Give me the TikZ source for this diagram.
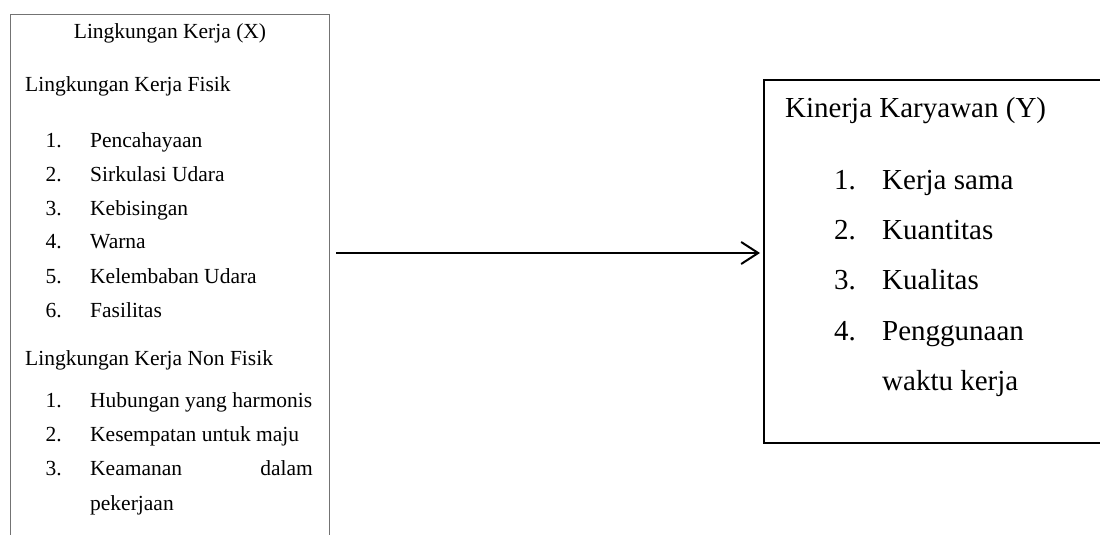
\documentclass[tikz,border=0pt]{standalone}
\usepackage{fontspec}
\setmainfont{Liberation Serif}
\usetikzlibrary{arrows.meta}
\tikzset{
  lboxstyle/.style={draw=black!55, line width=1pt, anchor=north west, inner sep=0pt},
  rboxstyle/.style={draw=black, line width=2pt, anchor=north west, inner sep=0pt},
  ltxt/.style={inner sep=0pt, font=\fontsize{21.5}{25}\selectfont},
  rtxt/.style={inner sep=0pt, font=\fontsize{29}{34}\selectfont},
  arr/.style={line width=2pt, -{Straight Barb[length=17pt,width=22pt,line width=2pt]}}
}
\begin{document}
\begin{tikzpicture}[x=1pt,y=-1pt]
\useasboundingbox (0,0) rectangle (1100,535);
\clip (0,0) rectangle (1100,535);
% boxes
\node[lboxstyle, minimum width=319pt, minimum height=560pt] (lbox) at (9.5,14) {};
\node[rboxstyle, minimum width=500pt, minimum height=363pt] (rbox) at (763,79) {};
% left box text
\node[ltxt, anchor=base] (lt) at (170,39) {Lingkungan Kerja (X)};
\node[ltxt, anchor=base west] (lh1) at (25,92) {Lingkungan Kerja Fisik};
\node[ltxt, anchor=base east] (n1) at (62,147) {1.};
\node[ltxt, anchor=base west] (i1) at (90,147) {Pencahayaan};
\node[ltxt, anchor=base east] (n2) at (62,181) {2.};
\node[ltxt, anchor=base west] (i2) at (90,181) {Sirkulasi Udara};
\node[ltxt, anchor=base east] (n3) at (62,215) {3.};
\node[ltxt, anchor=base west] (i3) at (90,215) {Kebisingan};
\node[ltxt, anchor=base east] (n4) at (62,248) {4.};
\node[ltxt, anchor=base west] (i4) at (90,248) {Warna};
\node[ltxt, anchor=base east] (n5) at (62,283) {5.};
\node[ltxt, anchor=base west] (i5) at (90,283) {Kelembaban Udara};
\node[ltxt, anchor=base east] (n6) at (62,317) {6.};
\node[ltxt, anchor=base west] (i6) at (90,317) {Fasilitas};
\node[ltxt, anchor=base west] (lh2) at (25,365) {Lingkungan Kerja Non Fisik};
\node[ltxt, anchor=base east] (m1) at (62,407) {1.};
\node[ltxt, anchor=base west] (j1) at (90,407) {Hubungan yang harmonis};
\node[ltxt, anchor=base east] (m2) at (62,441) {2.};
\node[ltxt, anchor=base west] (j2) at (90,441) {Kesempatan untuk maju};
\node[ltxt, anchor=base east] (m3) at (62,475) {3.};
\node[ltxt, anchor=base west] (j3a) at (90,475) {Keamanan};
\node[ltxt, anchor=base east] (j3b) at (313,475) {dalam};
\node[ltxt, anchor=base west] (j3c) at (90,510) {pekerjaan};
% right box text
\node[rtxt, anchor=base west] (rt) at (785,117) {Kinerja Karyawan (Y)};
\node[rtxt, anchor=base east] (r1n) at (856,189) {1.};
\node[rtxt, anchor=base west] (r1) at (882,189) {Kerja sama};
\node[rtxt, anchor=base east] (r2n) at (856,239) {2.};
\node[rtxt, anchor=base west] (r2) at (882,239) {Kuantitas};
\node[rtxt, anchor=base east] (r3n) at (856,289) {3.};
\node[rtxt, anchor=base west] (r3) at (882,289) {Kualitas};
\node[rtxt, anchor=base east] (r4n) at (856,340) {4.};
\node[rtxt, anchor=base west] (r4) at (882,340) {Penggunaan};
\node[rtxt, anchor=base west] (r5) at (882,390) {waktu kerja};
% arrow
\coordinate (astart) at (336,253);
\draw[arr, shorten >=3pt] (astart) -- (astart -| rbox.west);
\end{tikzpicture}
\end{document}
